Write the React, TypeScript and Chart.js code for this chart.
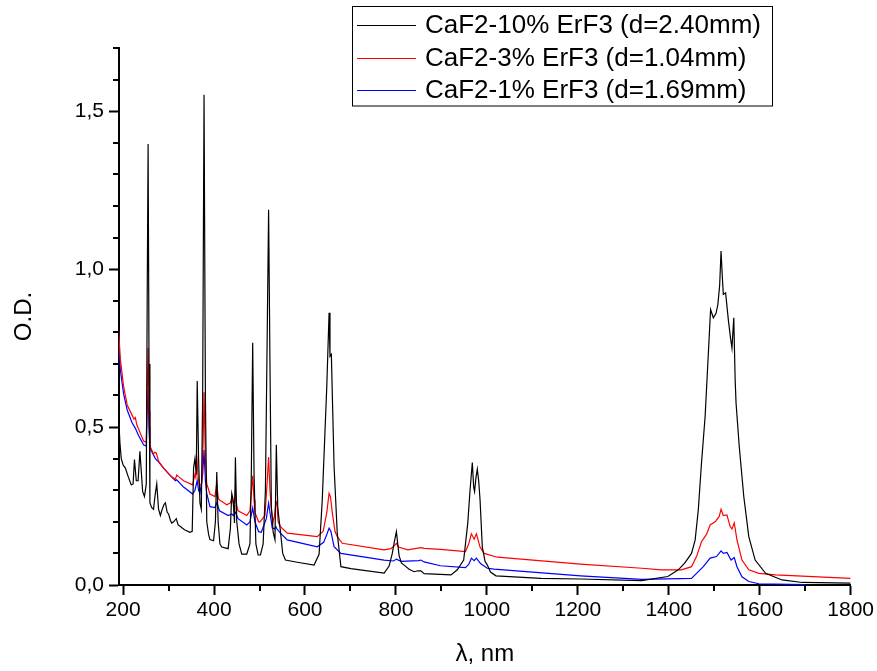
import React, { useEffect, useRef } from "react";
import { Chart, registerables } from "chart.js";

Chart.register(...registerables);

const seriesLabels = [
  "CaF2-10% ErF3 (d=2.40mm)",
  "CaF2-3% ErF3 (d=1.04mm)",
  "CaF2-1% ErF3 (d=1.69mm)",
];
const seriesColors = ["#000000", "#ff0000", "#0000ff"];

const xTickValues = [200, 300, 400, 500, 600, 700, 800, 900, 1000, 1100, 1200, 1300, 1400, 1500, 1600, 1700, 1800];
const yTickValues = [0, 0.1, 0.2, 0.3, 0.4, 0.5, 0.6, 0.7, 0.8, 0.9, 1.0, 1.1, 1.2, 1.3, 1.4, 1.5, 1.6, 1.7];

// CaF2-10% ErF3
const blackNm = [
  190, 193, 196, 200, 205, 211, 218, 222, 225, 229, 233, 237, 243, 247, 251, 253, 255, 257, 259, 263,
  267, 270, 274, 278, 282, 286, 290, 293, 297, 300, 304, 307, 311, 317, 321, 326, 335, 347, 352, 355,
  358, 361, 363, 366, 369, 372, 375, 378, 381, 384, 388, 391, 399, 403, 406, 409, 413, 417, 431, 436,
  439, 442, 445, 447, 450, 455, 461, 472, 479, 482, 485, 488, 492, 497, 502, 508, 513, 517, 520, 523,
  526, 530, 534, 537, 540, 542, 546, 551, 557, 583, 620, 631, 638, 643, 648, 653, 655, 658, 661, 664,
  671, 679, 701, 774, 785, 792, 796, 801, 804, 807, 812, 818, 829, 840, 848, 855, 862, 921, 935, 949,
  958, 963, 968, 971, 973, 976, 979, 982, 985, 990, 996, 1001, 1008, 1020, 1119, 1206, 1340, 1398, 1421, 1435,
  1450, 1458, 1465, 1472, 1480, 1486, 1492, 1498, 1504, 1508, 1512, 1515, 1518, 1520, 1525, 1531, 1536, 1539, 1543, 1546,
  1548, 1555, 1565, 1576, 1590, 1613, 1649, 1694, 1800,
];
const blackOD = [
  0.54, 0.45, 0.40, 0.38, 0.37, 0.344, 0.317, 0.32, 0.397, 0.33, 0.33, 0.423, 0.296, 0.28, 0.32, 0.9, 1.396, 0.7, 0.26, 0.245,
  0.24, 0.28, 0.32, 0.24, 0.22, 0.24, 0.255, 0.26, 0.23, 0.225, 0.205, 0.196, 0.2, 0.21, 0.19, 0.185, 0.175, 0.167, 0.17, 0.37,
  0.40, 0.35, 0.646, 0.4, 0.26, 0.24, 0.6, 1.552, 0.6, 0.2, 0.16, 0.144, 0.14, 0.2, 0.358, 0.2, 0.13, 0.12, 0.115, 0.18,
  0.29, 0.27, 0.196, 0.404, 0.2, 0.13, 0.098, 0.098, 0.13, 0.35, 0.767, 0.35, 0.13, 0.095, 0.095, 0.13, 0.3, 0.8, 1.188, 0.7,
  0.25, 0.167, 0.143, 0.444, 0.25, 0.22, 0.17, 0.1, 0.079, 0.072, 0.063, 0.097, 0.27, 0.45, 0.63, 0.862, 0.724, 0.73, 0.55, 0.375,
  0.164, 0.058, 0.052, 0.038, 0.06, 0.1, 0.133, 0.169, 0.13, 0.093, 0.07, 0.063, 0.05, 0.042, 0.045, 0.045, 0.036, 0.032, 0.048, 0.079,
  0.196, 0.30, 0.388, 0.31, 0.296, 0.34, 0.367, 0.33, 0.27, 0.12, 0.075, 0.063, 0.041, 0.029, 0.021, 0.019, 0.014, 0.027, 0.048, 0.069,
  0.1, 0.142, 0.238, 0.386, 0.534, 0.703, 0.872, 0.846, 0.86, 0.888, 0.95, 1.057, 0.97, 0.92, 0.925, 0.84, 0.78, 0.75, 0.846, 0.65,
  0.576, 0.439, 0.28, 0.153, 0.079, 0.037, 0.016, 0.008, 0.006,
];

// CaF2-3% ErF3
const redNm = [
  190, 194, 201, 209, 220, 224, 227, 230, 238, 245, 251, 253, 255, 257, 259, 267, 270, 273, 278, 289,
  304, 315, 318, 322, 333, 353, 358, 360, 362, 365, 368, 373, 376, 378, 381, 384, 391, 402, 406, 409,
  411, 428, 436, 439, 442, 445, 447, 450, 453, 472, 479, 485, 488, 490, 498, 501, 512, 517, 520, 523,
  526, 530, 533, 536, 538, 541, 546, 561, 627, 640, 648, 653, 656, 660, 666, 671, 682, 774, 789, 797,
  801, 806, 826, 855, 862, 898, 953, 960, 966, 972, 977, 985, 994, 1023, 1206, 1341, 1384, 1428, 1450, 1461,
  1472, 1483, 1491, 1502, 1511, 1515, 1520, 1528, 1535, 1539, 1544, 1550, 1561, 1576, 1598, 1635, 1800,
];
const redOD = [
  0.81, 0.715, 0.63, 0.57, 0.537, 0.525, 0.53, 0.508, 0.48, 0.456, 0.452, 0.6, 0.75, 0.55, 0.44, 0.415, 0.42, 0.418, 0.392, 0.37,
  0.346, 0.335, 0.348, 0.343, 0.33, 0.317, 0.35, 0.34, 0.41, 0.34, 0.315, 0.32, 0.45, 0.61, 0.4, 0.32, 0.288, 0.28, 0.323, 0.28,
  0.27, 0.254, 0.26, 0.277, 0.26, 0.26, 0.30, 0.25, 0.235, 0.22, 0.235, 0.346, 0.27, 0.23, 0.20, 0.2, 0.22, 0.33, 0.405, 0.3,
  0.24, 0.20, 0.22, 0.26, 0.264, 0.2, 0.185, 0.164, 0.153, 0.17, 0.23, 0.29, 0.28, 0.23, 0.17, 0.153, 0.132, 0.111, 0.115, 0.125,
  0.132, 0.12, 0.111, 0.118, 0.116, 0.113, 0.106, 0.13, 0.162, 0.145, 0.162, 0.12, 0.10, 0.088, 0.066, 0.053, 0.048, 0.048, 0.058, 0.09,
  0.137, 0.16, 0.19, 0.2, 0.217, 0.24, 0.22, 0.222, 0.185, 0.177, 0.197, 0.143, 0.079, 0.048, 0.037, 0.032, 0.021,
];

// CaF2-1% ErF3
const blueNm = [
  190, 194, 201, 209, 220, 227, 234, 245, 251, 253, 255, 257, 259, 271, 278, 289, 304, 315, 318, 333,
  353, 358, 363, 366, 369, 375, 378, 381, 384, 391, 402, 406, 412, 431, 439, 442, 447, 453, 472, 479,
  485, 490, 498, 504, 515, 520, 524, 528, 533, 536, 538, 546, 561, 627, 641, 648, 653, 657, 664, 679,
  774, 795, 801, 811, 850, 855, 862, 898, 953, 960, 966, 972, 977, 986, 1001, 1016, 1206, 1341, 1450, 1461,
  1476, 1491, 1505, 1515, 1520, 1528, 1537, 1544, 1550, 1561, 1576, 1598, 1700,
];
const blueOD = [
  0.787, 0.68, 0.606, 0.554, 0.513, 0.496, 0.473, 0.444, 0.44, 0.55, 0.617, 0.5, 0.433, 0.40, 0.39, 0.37, 0.346, 0.33, 0.333, 0.31,
  0.288, 0.3, 0.33, 0.3, 0.29, 0.35, 0.427, 0.33, 0.29, 0.248, 0.245, 0.26, 0.235, 0.22, 0.225, 0.22, 0.23, 0.21, 0.19, 0.2,
  0.244, 0.2, 0.169, 0.167, 0.21, 0.259, 0.22, 0.18, 0.178, 0.185, 0.178, 0.164, 0.143, 0.121, 0.135, 0.16, 0.18, 0.17, 0.121, 0.10,
  0.079, 0.076, 0.082, 0.075, 0.077, 0.079, 0.073, 0.061, 0.055, 0.065, 0.085, 0.077, 0.085, 0.068, 0.053, 0.05, 0.029, 0.018, 0.021, 0.037,
  0.058, 0.085, 0.09, 0.108, 0.1, 0.103, 0.079, 0.087, 0.058, 0.026, 0.011, 0.004, 0.001,
];

const FONT = "'Liberation Sans', Arial, Helvetica, sans-serif";

const isMajorX = (v: number) => Math.round(v) % 200 === 0;
const isMajorY = (v: number) => Math.round(v * 10) % 5 === 0;

const minorTicksPlugin = {
  id: "minorTicks",
  afterDraw(chart: any) {
    const ctx = chart.ctx;
    const xs = chart.scales.x;
    const ys = chart.scales.y;
    ctx.save();
    ctx.strokeStyle = "#000";
    ctx.lineWidth = 2;
    ctx.beginPath();
    xTickValues.filter((v) => !isMajorX(v)).forEach((v) => {
      const px = Math.round(xs.getPixelForValue(v));
      ctx.moveTo(px, ys.bottom);
      ctx.lineTo(px, ys.bottom + 6);
    });
    yTickValues.filter((v) => !isMajorY(v)).forEach((v) => {
      const py = Math.round(ys.getPixelForValue(v));
      ctx.moveTo(xs.left - 6, py);
      ctx.lineTo(xs.left, py);
    });
    ctx.stroke();
    ctx.restore();
  },
};

const boxLegendPlugin = {
  id: "boxLegend",
  afterDraw(chart: any) {
    const ctx = chart.ctx;
    const left = 352;
    const top = 6;
    const width = 420;
    const rowH = 32.5;
    ctx.save();
    ctx.fillStyle = "#fff";
    ctx.fillRect(left, top, width, rowH * 3 + 2);
    ctx.strokeStyle = "#000";
    ctx.lineWidth = 1;
    ctx.strokeRect(left + 0.5, top + 0.5, width, rowH * 3 + 2);
    ctx.font = `26px ${FONT}`;
    ctx.textBaseline = "middle";
    chart.data.datasets.forEach((ds: any, i: number) => {
      const cy = top + 19 + i * rowH;
      ctx.strokeStyle = ds.borderColor;
      ctx.lineWidth = 1;
      ctx.beginPath();
      ctx.moveTo(left + 5, Math.round(cy) + 0.5);
      ctx.lineTo(left + 64, Math.round(cy) + 0.5);
      ctx.stroke();
      ctx.fillStyle = "#000";
      ctx.fillText(ds.label, left + 73, cy + 1);
    });
    ctx.restore();
  },
};

export default function App() {
  const ref = useRef<HTMLCanvasElement>(null);

  useEffect(() => {
    if (!ref.current) return;
    const mk = (xs: number[], ys: number[]) => xs.map((x, i) => ({ x, y: ys[i] }));
    const dataSets = [mk(blackNm, blackOD), mk(redNm, redOD), mk(blueNm, blueOD)];
    const chart = new Chart(ref.current, {
      type: "line",
      data: {
        datasets: dataSets.map((d, i) => ({
          label: seriesLabels[i],
          data: d,
          borderColor: seriesColors[i],
          backgroundColor: seriesColors[i],
          borderWidth: 1.2,
          pointRadius: 0,
          tension: 0,
          fill: false,
        })),
      },
      options: {
        animation: false,
        responsive: false,
        layout: { padding: { top: 48, right: 23, left: 0, bottom: 0 } },
        plugins: { legend: { display: false }, tooltip: { enabled: false } },
        scales: {
          x: {
            type: "linear",
            min: 191,
            max: 1800,
            afterBuildTicks: (s: any) => {
              s.ticks = xTickValues.map((v) => ({ value: v }));
            },
            afterFit: (s: any) => {
              s.height = 86;
            },
            border: { display: true, color: "#000", width: 2 },
            grid: {
              drawOnChartArea: false,
              drawTicks: true,
              tickLength: 10,
              tickWidth: 2,
              tickColor: (c: any) => (c.tick && isMajorX(c.tick.value) ? "#000" : "rgba(0,0,0,0)"),
            },
            ticks: {
              autoSkip: false,
              maxRotation: 0,
              color: "#000",
              padding: 3,
              font: { family: FONT, size: 21 },
              callback: (v: any) => (isMajorX(Number(v)) ? String(v) : ""),
            },
            title: {
              display: true,
              text: "λ, nm",
              color: "#000",
              font: { family: FONT, size: 24 },
              padding: { top: 0, bottom: 2 },
            },
          },
          y: {
            type: "linear",
            min: 0,
            max: 1.7,
            afterBuildTicks: (s: any) => {
              s.ticks = yTickValues.map((v) => ({ value: v }));
            },
            afterFit: (s: any) => {
              s.width = 119;
            },
            border: { display: true, color: "#000", width: 2 },
            grid: {
              drawOnChartArea: false,
              drawTicks: true,
              tickLength: 10,
              tickWidth: 2,
              tickColor: (c: any) => (c.tick && isMajorY(c.tick.value) ? "#000" : "rgba(0,0,0,0)"),
            },
            ticks: {
              autoSkip: false,
              color: "#000",
              padding: 5,
              font: { family: FONT, size: 21 },
              callback: (v: any) => (isMajorY(Number(v)) ? Number(v).toFixed(1).replace(".", ",") : ""),
            },
            title: {
              display: true,
              text: "O.D.",
              color: "#000",
              font: { family: FONT, size: 24 },
              padding: { top: 10, bottom: 0 },
            },
          },
        },
      },
      plugins: [minorTicksPlugin, boxLegendPlugin],
    } as any);
    return () => chart.destroy();
  }, []);

  return (
    <div style={{ position: "absolute", left: 0, top: 0, width: 877, height: 671, background: "#fff" }}>
      <canvas ref={ref} width={877} height={671} style={{ width: 877, height: 671, display: "block" }} />
    </div>
  );
}
